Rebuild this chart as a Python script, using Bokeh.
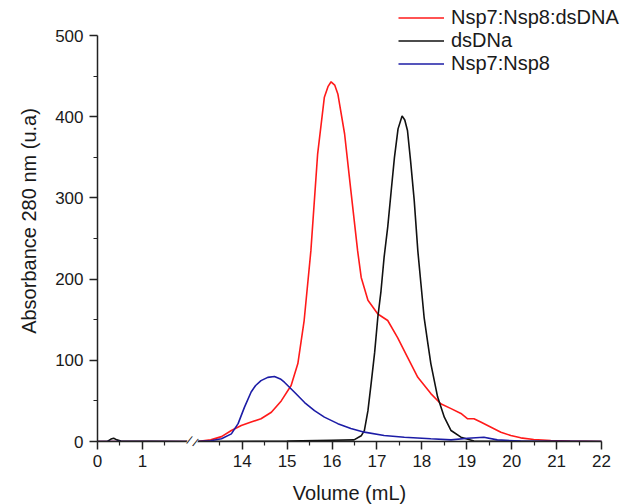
from bokeh.plotting import figure
from bokeh.models import FixedTicker, Legend, LegendItem, Label, Range1d
from bokeh.embed import file_html
from bokeh.resources import INLINE

# ---------------- data (elution volume in mL, absorbance 280 nm) ----------------
series_names = ["Nsp7:Nsp8:dsDNA", "dsDNa", "Nsp7:Nsp8"]
series_colors = ["#ff1a1a", "#111111", "#1c1ca6"]

vol_complex = [0, 1.9, 13.0, 13.3, 13.54, 13.76, 13.98, 14.2, 14.42, 14.65, 14.87, 15.09,
               15.24, 15.38, 15.53, 15.68, 15.83, 15.91, 15.98, 16.06, 16.13, 16.28, 16.42,
               16.57, 16.65, 16.8, 17.02, 17.24, 17.46, 17.68, 17.91, 18.2, 18.42, 18.65,
               18.87, 19.02, 19.16, 19.31, 19.54, 19.76, 19.98, 20.2, 20.49, 20.87, 21.3, 22]
abs_complex = [0, 0, 0, 2, 6, 13.5, 19.7, 24, 28, 36, 50, 69,
               96, 149, 235, 354, 424, 437, 443, 439, 428, 379, 309,
               235, 202, 174, 157, 149, 128, 104, 79, 59, 46.5, 40.5,
               34.5, 28, 28, 24, 17.6, 11.5, 7.4, 4.5, 2.5, 1.2, 0.5, 0]

vol_dna = [0, 0.22, 0.3, 0.36, 0.43, 0.52, 1.9, 13.0, 15.0, 16.0, 16.49, 16.65, 16.72, 16.8,
           16.87, 16.95, 17.02, 17.09, 17.16, 17.24, 17.32, 17.39, 17.47, 17.56, 17.62, 17.68,
           17.75, 17.83, 17.91, 17.98, 18.05, 18.13, 18.2, 18.35, 18.5, 18.65, 18.87, 19.16, 22]
abs_dna = [0, 0, 3, 4, 2, 0.5, 0, 0, 0.5, 1.5, 2, 7, 13.5, 38,
           71, 110, 153, 185, 227, 264, 310, 350, 385, 401, 396, 383,
           345, 297, 235, 194, 153, 122, 96, 55, 30, 13.5, 5.3, 0.5, 0]

vol_nsp = [0, 1.9, 13.0, 13.3, 13.54, 13.76, 13.91, 14.05, 14.2, 14.3, 14.42, 14.57, 14.72,
           14.85, 14.94, 15.16, 15.39, 15.61, 15.83, 16.13, 16.42, 16.72, 17.16, 17.61, 18.2,
           18.65, 19.02, 19.38, 19.68, 20.2, 22]
abs_nsp = [0, 0, 0, 1, 3.3, 9.4, 22, 42, 61, 69, 75, 79, 80,
           77, 73, 61, 48, 38, 30, 22, 16, 11.5, 7.4, 5.3, 3.3,
           2, 4, 5.3, 2, 0.5, 0]

x_tick_values = [0, 1, 14, 15, 16, 17, 18, 19, 20, 21, 22]
x_minor_values = [0.5, 1.5, 13.5, 14.5, 15.5, 16.5, 17.5, 18.5, 19.5, 20.5, 21.5]
y_tick_values = [0, 100, 200, 300, 400, 500]
y_minor_values = [50, 150, 250, 350, 450]

x_title = "Volume (mL)"
y_title = "Absorbance 280 nm (u.a)"

# ---------------- broken x axis: 0-2 mL, then 13-22 mL ----------------
BREAK_SHIFT = 10.78


def disp(v):
    return v if v < 5 else round(v - BREAK_SHIFT, 4)


FONT = "Liberation Sans"
AXIS_COLOR = "#222222"
X_END = disp(22)
Y_END = 500
PX_X = 45.0      # pixels per display unit on x
PX_Y = 0.812     # pixels per absorbance unit on y

# the frame extends past the axes' ends (top/right) so that the legend fits in it
p = figure(width=631, height=504, output_backend="svg", toolbar_location=None,
           x_range=Range1d(0, X_END + 30 / PX_X), y_range=Range1d(0, Y_END + 35 / PX_Y),
           min_border_left=96, min_border_right=0, min_border_top=0, min_border_bottom=63)
p.outline_line_color = None
p.xgrid.visible = False
p.ygrid.visible = False
p.background_fill_color = "white"
p.border_fill_color = "white"

renderers = []
for vols, vals, color in [(vol_complex, abs_complex, series_colors[0]),
                          (vol_dna, abs_dna, series_colors[1]),
                          (vol_nsp, abs_nsp, series_colors[2])]:
    r = p.line([disp(v) for v in vols], vals, line_color=color, line_width=1.6)
    renderers.append(r)

# axes
xt = [disp(v) for v in x_tick_values]
p.xaxis.ticker = FixedTicker(ticks=xt, minor_ticks=[disp(v) for v in x_minor_values])
p.xaxis.major_label_overrides = {t: str(v) for t, v in zip(xt, x_tick_values)}
p.yaxis.ticker = FixedTicker(ticks=y_tick_values, minor_ticks=y_minor_values)
p.xaxis.bounds = (0, X_END)
p.yaxis.bounds = (0, Y_END)

p.yaxis.axis_label = y_title

for ax in (p.xaxis[0], p.yaxis[0]):
    ax.axis_line_color = AXIS_COLOR
    ax.axis_line_width = 1.5
    ax.major_tick_line_color = AXIS_COLOR
    ax.major_tick_line_width = 1.5
    ax.minor_tick_line_color = AXIS_COLOR
    ax.minor_tick_line_width = 1.2
    ax.major_tick_in = 0
    ax.major_tick_out = 8
    ax.minor_tick_in = 0
    ax.minor_tick_out = 4
    ax.major_label_text_font = FONT
    ax.major_label_text_font_size = "17px"
    ax.major_label_text_color = "#1a1a1a"
    ax.axis_label_text_font = FONT
    ax.axis_label_text_font_size = "20px"
    ax.axis_label_text_font_style = "normal"
    ax.axis_label_text_color = "#1a1a1a"

p.xaxis.major_label_standoff = 5
p.yaxis.major_label_standoff = 6
p.yaxis.axis_label_standoff = 12

# x-axis title, centred under the drawn axis (side panel, so not clipped)
p.add_layout(Label(x=X_END / 2, y=-51 / PX_Y, text=x_title, text_align="center",
                   text_baseline="middle", text_font=FONT, text_font_size="20px",
                   text_color="#1a1a1a"), "below")

# axis-break mark (side panel, so it is not clipped by the frame)
p.add_layout(Label(x=2.11, y=0, text="/ /", text_align="center", text_baseline="middle",
                   angle=-0.4, text_font=FONT, text_font_size="12px",
                   text_color=AXIS_COLOR, background_fill_color="white"), "left")

legend = Legend(items=[LegendItem(label=n, renderers=[r]) for n, r in zip(series_names, renderers)],
                location=(301, 366), border_line_color=None, background_fill_alpha=0,
                padding=0, margin=0, spacing=0, label_standoff=7, glyph_width=46,
                glyph_height=21, label_height=21, label_text_font=FONT,
                label_text_font_size="20px", label_text_color="#1a1a1a")
p.add_layout(legend)

open("out.html", "w").write(file_html(p, INLINE))
